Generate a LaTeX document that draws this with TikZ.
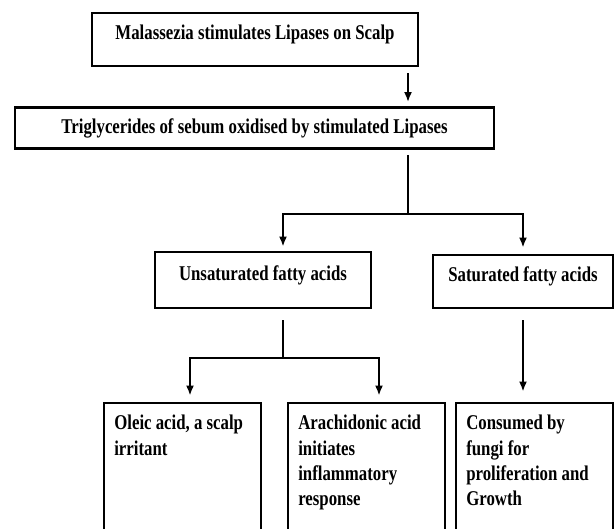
\documentclass[tikz,border=0pt]{standalone}
\usepackage{fontspec}
\newfontfamily\flowfont{Liberation Serif}[FakeStretch=0.8]
\usetikzlibrary{arrows.meta,positioning}

\tikzset{
    stage/.style={draw, line width=2.8pt, inner sep=0pt, font=\flowfont\bfseries\fontsize{21}{25.3}\selectfont},
    leaf/.style={stage, minimum width=157pt, minimum height=137pt},
    leaftext/.style={inner sep=0pt, align=left, anchor=north west, font=\flowfont\bfseries\fontsize{21}{25.3}\selectfont},
    link/.style={line width=2.2pt},
    arrow/.style={link, -{Latex[length=10pt,width=8pt]}}
}

\begin{document}
\begin{tikzpicture}[x=1pt, y=-1pt]
    \useasboundingbox (0,0) rectangle (615,529);
    \clip (0,0) rectangle (615,529);

    % Boxes
    \node[stage, minimum width=326pt, minimum height=53pt, text height=14pt, text depth=14pt] (scalp) at (255,39.5) {Malassezia stimulates Lipases on Scalp};
    \node[stage, minimum width=479pt, minimum height=41pt] (trig) at (254.5,128) {Triglycerides of sebum oxidised by stimulated Lipases};
    \node[stage, minimum width=216pt, minimum height=56pt, text height=14pt, text depth=14pt] (unsat) at (263,280) {Unsaturated fatty acids};
    \node[stage, minimum width=180pt, minimum height=53pt, text height=14pt, text depth=14pt] (sat) at (523,281.5) {Saturated fatty acids};
    \node[leaf] (oleic) at (182.5,471.5) {};
    \node[leaf] (arach) at (366.5,471.5) {};
    \node[leaf] (fungi) at (534.5,471.5) {};

    % Texts of the lower boxes
    \node[leaftext] (oleictext) at ([xshift=11.5pt,yshift=-13.5pt]oleic.north west) {Oleic acid, a scalp\\irritant};
    \node[leaftext] (arachtext) at ([xshift=11.5pt,yshift=-13.5pt]arach.north west) {Arachidonic acid\\initiates\\inflammatory\\response};
    \node[leaftext] (fungitext) at ([xshift=11.5pt,yshift=-13.5pt]fungi.north west) {Consumed by\\fungi for\\proliferation and\\Growth};

    % Connectors
    \coordinate (forkA) at (408,214);
    \coordinate (forkB) at (283,358);
    \draw[arrow, shorten <=6pt, shorten >=4pt] (scalp.south -| forkA) -- (trig.north -| forkA);
    \draw[link, shorten <=5pt] (trig.south -| forkA) -- (forkA);
    \draw[arrow, shorten >=4pt] (forkA) -| ([xshift=20pt]unsat.north);
    \draw[arrow, shorten >=6pt] (forkA) -| (sat.north);
    \draw[link, shorten <=11pt] ([xshift=20pt]unsat.south) -- (forkB);
    \draw[arrow, shorten >=6pt] (forkB) -| ([xshift=7.5pt]oleic.north);
    \draw[arrow, shorten >=6pt] (forkB) -| ([xshift=12.5pt]arach.north);
    \draw[arrow, shorten <=11pt, shorten >=10pt] (sat.south) -- (sat.south |- fungi.north);
\end{tikzpicture}
\end{document}
